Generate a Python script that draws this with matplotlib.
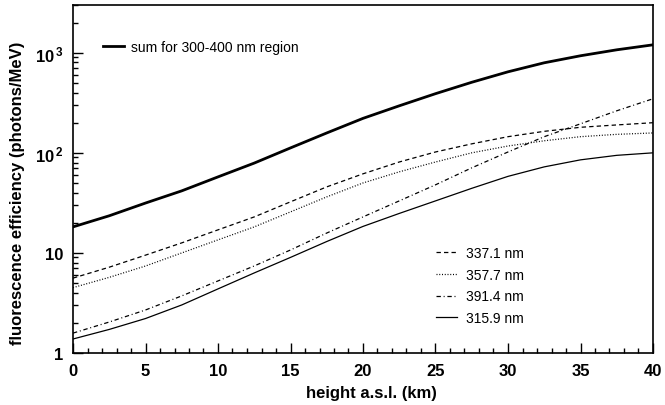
import matplotlib
matplotlib.use("Agg")
import matplotlib.pyplot as plt
from matplotlib.ticker import FixedLocator, FixedFormatter, LogLocator, MultipleLocator, NullFormatter

plt.rcParams["font.family"] = ["Liberation Sans", "DejaVu Sans"]
plt.rcParams["mathtext.fontset"] = "custom"
plt.rcParams["mathtext.rm"] = "Liberation Sans"
plt.rcParams["mathtext.bf"] = "Liberation Sans:bold"

# height a.s.l. (km)
height = [0, 2.5, 5, 7.5, 10, 12.5, 15, 17.5, 20, 22.5, 25, 27.5, 30, 32.5, 35, 37.5, 40]

# fluorescence efficiency (photons/MeV)
eff_sum = [18.2, 23.5, 31.5, 41.7, 57.5, 79, 112, 158, 221, 295, 390, 507, 645, 794, 933, 1070, 1200]
eff_3371 = [5.6, 7.2, 9.5, 12.6, 17, 22.9, 32.4, 45.7, 61.7, 81, 102, 123, 145, 164, 180, 190, 200]
eff_3577 = [4.5, 5.7, 7.4, 10, 13.5, 18.2, 25.7, 36.3, 50, 64.6, 81, 100, 117, 132, 145, 153, 158]
eff_3914 = [1.58, 2.04, 2.69, 3.72, 5.25, 7.41, 10.7, 15.8, 22.9, 33.1, 47.9, 70.8, 102, 145, 195, 263, 347]
eff_3159 = [1.38, 1.72, 2.21, 3.02, 4.37, 6.31, 9.02, 13.0, 18.4, 24.8, 33.1, 44.2, 58.2, 72.4, 85.1, 94.4, 100]

ytick_vals = [1, 10, 100, 1000]
ytick_labels = ["1", "10", r"$\mathbf{10^{\,2}}$", r"$\mathbf{10^{\,3}}$"]

fig = plt.figure(figsize=(6.65, 4.06), dpi=100)
ax = fig.add_axes([73 / 665, 52 / 406, 580 / 665, 348 / 406])

l_sum, = ax.plot(height, eff_sum, color="black", lw=2.0, label="sum for 300-400 nm region")
l1, = ax.plot(height, eff_3371, color="black", lw=0.9, dashes=(3.5, 2.5), label="337.1 nm")
l2, = ax.plot(height, eff_3577, color="black", lw=0.9, dashes=(0.8, 1.4), label="357.7 nm")
l3, = ax.plot(height, eff_3914, color="black", lw=0.9, dashes=(3.5, 2.2, 0.8, 2.2), label="391.4 nm")
l4, = ax.plot(height, eff_3159, color="black", lw=0.9, label="315.9 nm")

ax.set_yscale("log")
ax.set_xlim(0, 40)
ax.set_ylim(1, 3000)

ax.xaxis.set_major_locator(MultipleLocator(5))
ax.xaxis.set_minor_locator(MultipleLocator(1))
ax.yaxis.set_major_locator(FixedLocator(ytick_vals))
ax.yaxis.set_major_formatter(FixedFormatter(ytick_labels))
ax.yaxis.set_minor_locator(LogLocator(base=10, subs=range(2, 10)))
ax.yaxis.set_minor_formatter(NullFormatter())

ax.tick_params(which="both", direction="in", top=False, right=False, width=1.0)
ax.tick_params(which="major", length=7, labelsize=12, pad=7)
ax.tick_params(which="minor", length=3.5)
for lab in ax.get_xticklabels() + ax.get_yticklabels():
    lab.set_fontweight("bold")
for sp in ax.spines.values():
    sp.set_linewidth(1.2)

ax.set_xlabel("height a.s.l. (km)", fontsize=12, fontweight="bold")
ax.set_ylabel("fluorescence efficiency (photons/MeV)", fontsize=12, fontweight="bold")
ax.xaxis.set_label_coords(0.514, -0.092)
ax.yaxis.set_label_coords(-0.083, 0.463)

leg1 = ax.legend(handles=[l_sum], loc="upper left", bbox_to_anchor=(0.030, 0.935),
                 frameon=False, fontsize=10, handlelength=1.5, handletextpad=0.5)
ax.add_artist(leg1)
ax.legend(handles=[l1, l2, l3, l4], loc="upper left", bbox_to_anchor=(0.605, 0.343),
          frameon=False, fontsize=10, handlelength=1.5, handletextpad=0.6, labelspacing=0.55)

fig.savefig("out.png", dpi=100)
